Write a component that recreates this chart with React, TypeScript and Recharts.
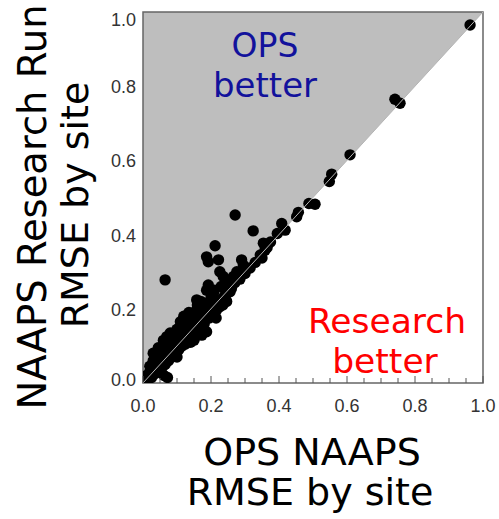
import {
  ComposedChart,
  Scatter,
  Line,
  Area,
  XAxis,
  YAxis,
  ReferenceArea
} from 'recharts'

// OPS NAAPS RMSE by site (x) vs NAAPS research run RMSE by site (y)
const opsRmse = [
  0.962, 0.741, 0.756, 0.609, 0.555, 0.548, 0.506, 0.488, 0.457, 0.452,
  0.408, 0.418, 0.395, 0.271, 0.324, 0.354, 0.359, 0.350, 0.212, 0.187,
  0.192, 0.222, 0.290, 0.295, 0.226, 0.236, 0.276, 0.266, 0.251, 0.192,
  0.187, 0.207, 0.158, 0.167, 0.236, 0.246, 0.256, 0.065, 0.173, 0.187,
  0.260, 0.270, 0.285, 0.300, 0.315, 0.330, 0.345, 0.365, 0.375, 0.246,
  0.005, 0.010, 0.012, 0.020, 0.020, 0.025, 0.030, 0.030, 0.035, 0.040,
  0.040, 0.045, 0.050, 0.050, 0.055, 0.060, 0.060, 0.062, 0.065, 0.070,
  0.070, 0.072, 0.075, 0.080, 0.080, 0.085, 0.090, 0.090, 0.095, 0.100,
  0.100, 0.105, 0.110, 0.110, 0.115, 0.120, 0.120, 0.125, 0.130, 0.130,
  0.135, 0.140, 0.140, 0.145, 0.150, 0.150, 0.155, 0.160, 0.160, 0.165,
  0.170, 0.175, 0.180, 0.185, 0.190, 0.195, 0.200, 0.205, 0.210, 0.215,
  0.220, 0.225, 0.230, 0.240, 0.245, 0.160, 0.140, 0.215, 0.235, 0.030,
  0.045, 0.060, 0.070, 0.080, 0.110, 0.120, 0.135, 0.160, 0.170, 0.200,
  0.210, 0.150, 0.100, 0.230
]
const researchRmse = [
  0.965, 0.765, 0.754, 0.615, 0.563, 0.543, 0.482, 0.484, 0.460, 0.448,
  0.430, 0.412, 0.403, 0.453, 0.410, 0.377, 0.358, 0.337, 0.370, 0.340,
  0.327, 0.332, 0.332, 0.318, 0.300, 0.287, 0.300, 0.287, 0.273, 0.264,
  0.250, 0.242, 0.224, 0.215, 0.228, 0.220, 0.246, 0.278, 0.129, 0.138,
  0.255, 0.270, 0.280, 0.295, 0.310, 0.325, 0.345, 0.365, 0.380, 0.251,
  0.010, 0.020, 0.005, 0.030, 0.045, 0.015, 0.040, 0.060, 0.025, 0.050,
  0.075, 0.035, 0.060, 0.085, 0.040, 0.070, 0.095, 0.020, 0.050, 0.080,
  0.105, 0.015, 0.060, 0.090, 0.120, 0.070, 0.100, 0.130, 0.080, 0.110,
  0.145, 0.090, 0.120, 0.150, 0.100, 0.130, 0.165, 0.105, 0.140, 0.170,
  0.115, 0.150, 0.180, 0.125, 0.160, 0.190, 0.135, 0.170, 0.200, 0.145,
  0.180, 0.205, 0.160, 0.190, 0.215, 0.175, 0.200, 0.180, 0.210, 0.195,
  0.215, 0.205, 0.225, 0.235, 0.240, 0.130, 0.110, 0.175, 0.210, 0.080,
  0.095, 0.115, 0.125, 0.135, 0.165, 0.180, 0.190, 0.210, 0.220, 0.230,
  0.250, 0.115, 0.070, 0.260
]

const axisTicks = [
  0, 0.05, 0.1, 0.15, 0.2, 0.25, 0.3, 0.35, 0.4, 0.45, 0.5,
  0.55, 0.6, 0.65, 0.7, 0.75, 0.8, 0.85, 0.9, 0.95, 1
]
const labelledTicks = [0, 0.2, 0.4, 0.6, 0.8, 1]

const sites = opsRmse.map((x, i) => ({ x, y: researchRmse[i] }))
// "OPS better" wedge above the 1:1 line
const wedge = [
  { x: 0, band: [0, 1] },
  { x: 1, band: [1, 1] }
]
const oneToOne = [
  { x: 0, y: 0 },
  { x: 1, y: 1 }
]

const TICK_FONT = '"Liberation Sans", Arial, sans-serif'
const TITLE_FONT = '"DejaVu Sans", Verdana, sans-serif'

const isMajor = (v: number) => labelledTicks.some((t) => Math.abs(t - v) < 1e-6)

const BottomTick = (props: any) => {
  const { x, y, payload } = props
  const v = payload.value
  const major = isMajor(v)
  return (
    <g>
      <line x1={x} y1={y} x2={x} y2={y - (major ? 7 : 5)} stroke="#555" />
      {major && (
        <text x={x} y={y + 29} textAnchor="middle" fontFamily={TICK_FONT} fontSize={18} fill="#333">
          {v.toFixed(1)}
        </text>
      )}
    </g>
  )
}

const LeftTick = (props: any) => {
  const { x, y, payload } = props
  const v = payload.value
  if (!isMajor(v)) return null
  const shift = v === 1 ? 7 : v === 0 ? -4 : 0
  return (
    <text x={x - 7} y={y + shift + 7} textAnchor="end" fontFamily={TICK_FONT} fontSize={18} fill="#333">
      {v.toFixed(1)}
    </text>
  )
}

const RightTick = (props: any) => {
  const { x, y, payload } = props
  const major = isMajor(payload.value)
  return <line x1={x} y1={y} x2={x - (major ? 7 : 4)} y2={y} stroke="#555" />
}

const Dot = (props: any) => <circle cx={props.cx} cy={props.cy} r={5.7} fill="#000" />

export default function App() {
  return (
    <div style={{ position: 'absolute', left: 0, top: 0, width: 499, height: 519, background: '#fff' }}>
      <ComposedChart
        width={499}
        height={519}
        margin={{ top: 0, right: 0, bottom: 0, left: 0 }}
      >
        <XAxis
          xAxisId="b"
          type="number"
          dataKey="x"
          domain={[0, 1]}
          ticks={axisTicks}
          interval={0}
          height={136}
          tickSize={0}
          tickMargin={0}
          tick={<BottomTick />}
          axisLine={false}
          allowDataOverflow
        />
        <XAxis xAxisId="t" orientation="top" type="number" domain={[0, 1]} height={12} tick={false} axisLine={false} />
        <YAxis
          yAxisId="l"
          type="number"
          domain={[0, 1]}
          ticks={labelledTicks}
          interval={0}
          width={143}
          tickSize={0}
          tickMargin={0}
          tick={<LeftTick />}
          axisLine={false}
          allowDataOverflow
        />
        <YAxis
          yAxisId="r"
          orientation="right"
          type="number"
          domain={[0, 1]}
          ticks={axisTicks}
          interval={0}
          width={16}
          tickSize={0}
          tickMargin={0}
          tick={<RightTick />}
          axisLine={false}
        />
        <Area
          xAxisId="b"
          yAxisId="l"
          data={wedge}
          dataKey="band"
          type="linear"
          fill="#bebebe"
          fillOpacity={1}
          stroke="none"
          isAnimationActive={false}
        />
        <Scatter
          xAxisId="b"
          yAxisId="l"
          data={sites}
          dataKey="y"
          shape={<Dot />}
          isAnimationActive={false}
        />
        <Line
          xAxisId="b"
          yAxisId="l"
          data={oneToOne}
          dataKey="y"
          type="linear"
          stroke="#b4b4b4"
          strokeWidth={1}
          dot={false}
          activeDot={false}
          isAnimationActive={false}
          zIndex={1000}
        />
        <ReferenceArea
          xAxisId="b"
          yAxisId="l"
          x1={0}
          x2={1}
          y1={0}
          y2={1}
          fill="none"
          fillOpacity={0}
          stroke="#666"
          strokeWidth={1.5}
          ifOverflow="visible"
        />
      </ComposedChart>
      <svg
        width={499}
        height={519}
        style={{ position: 'absolute', left: 0, top: 0, pointerEvents: 'none' }}
      >
        <g fontFamily={TITLE_FONT} textAnchor="middle">
          <text x={265} y={57} fontSize={33} fill="#12129c">OPS</text>
          <text x={265} y={97} fontSize={34} fill="#12129c">better</text>
          <text x={387} y={333} fontSize={34.5} fill="#ff0000">Research</text>
          <text x={385} y={373} fontSize={34.5} fill="#ff0000">better</text>
          <text x={312} y={465} fontSize={38} fill="#000">OPS NAAPS</text>
          <text x={310} y={505} fontSize={38} fill="#000">RMSE by site</text>
          <text x={46} y={207} fontSize={38.5} fill="#000" transform="rotate(-90 46 207)">
            NAAPS Research Run
          </text>
          <text x={88} y={205} fontSize={38} fill="#000" transform="rotate(-90 88 205)">
            RMSE by site
          </text>
        </g>
      </svg>
    </div>
  )
}
